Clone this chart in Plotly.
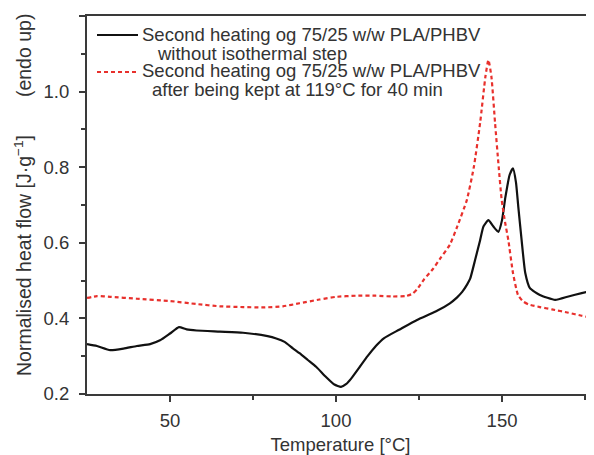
import plotly.graph_objects as go

# Black curve: second heating without isothermal step
t_black = [25, 28, 32, 36, 40, 44, 47, 50, 52.7, 55, 58, 65, 72, 79.4, 82, 84.5, 87, 89,
           91.5, 94, 97, 99.5, 101.5, 103, 104.5, 107, 109.5, 112, 114.5, 119, 124.4, 130,
           134.3, 136.4, 138, 139.5, 140.4, 141.9, 143.4, 144.4, 145.9, 147.4, 148.9, 150,
           151, 152.3, 153.3, 154.2, 154.9, 155.9, 157, 158.4, 161.4, 166, 170, 174, 177.7]
hf_black = [0.332, 0.327, 0.316, 0.320, 0.327, 0.332, 0.342, 0.360, 0.377, 0.371, 0.368,
            0.365, 0.362, 0.353, 0.347, 0.338, 0.321, 0.308, 0.290, 0.272, 0.245, 0.225,
            0.219, 0.226, 0.240, 0.270, 0.300, 0.327, 0.348, 0.370, 0.396, 0.418, 0.440,
            0.455, 0.470, 0.490, 0.505, 0.555, 0.607, 0.643, 0.660, 0.643, 0.629, 0.660,
            0.720, 0.780, 0.797, 0.760, 0.695, 0.607, 0.520, 0.480, 0.462, 0.449, 0.458,
            0.467, 0.475]

# Red dashed curve: after being kept at 119 °C for 40 min
t_red = [25, 28, 32, 40, 50, 58, 65, 72, 78, 84, 89, 95, 100, 106, 112, 117, 121, 123,
         124.4, 126.5, 129.3, 131.5, 134.3, 136.5, 139.4, 141.5, 143.4, 145, 145.9, 146.8,
         147.9, 149, 149.9, 150.9, 151.9, 153.3, 154.8, 156.3, 158, 161.4, 165, 170, 174,
         177.7]
hf_red = [0.454, 0.459, 0.457, 0.452, 0.446, 0.438, 0.432, 0.430, 0.429, 0.432, 0.440,
          0.450, 0.457, 0.460, 0.460, 0.458, 0.459, 0.465, 0.477, 0.503, 0.532, 0.560,
          0.595, 0.643, 0.713, 0.800, 0.917, 1.040, 1.084, 1.040, 0.917, 0.800, 0.713,
          0.655, 0.607, 0.520, 0.462, 0.445, 0.437, 0.430, 0.424, 0.415, 0.407, 0.400]

legend_black = ["Second heating og 75/25 w/w PLA/PHBV", "without isothermal step"]
legend_red = ["Second heating og 75/25 w/w PLA/PHBV", "after being kept at 119°C for 40 min"]

x_ticks = [50, 100, 150]
y_ticks = [0.2, 0.4, 0.6, 0.8, 1.0, 1.2]

y_title = "Normalised heat flow [J·g<sup>−1</sup>]" + "\u00a0" * 7 + "(endo up)"
x_title = "Temperature [°C]"

black = "#111111"
red = "#e8302c"
axis_color = "#3a3a3a"
text_color = "#333333"
font_fam = "Liberation Sans, Arial, sans-serif"

fig = go.Figure()
fig.add_trace(go.Scatter(x=t_black, y=hf_black, mode="lines", name=" ".join(legend_black),
                         showlegend=False,
                         line=dict(color=black, width=2.2, shape="spline", smoothing=0.5)))
fig.add_trace(go.Scatter(x=t_red, y=hf_red, mode="lines", name=" ".join(legend_red),
                         showlegend=False,
                         line=dict(color=red, width=2.2, dash="4px,3px",
                                   shape="spline", smoothing=0.5)))

# Legend drawn inside the plot (paper coordinates of the plot area)
PL, PW, PB, PH = 87, 507, 394, 378  # plot-area pixel frame in the screenshot


def px(x):
    return (x - PL) / PW


def py(y):
    return (PB - y) / PH


for y_line, color, dash in [(35, black, "solid"), (72, red, "4px,3px")]:
    fig.add_shape(type="line", xref="paper", yref="paper",
                  x0=px(97), x1=px(138), y0=py(y_line), y1=py(y_line),
                  line=dict(color=color, width=2.2, dash=dash))

for txt, x_left, y_mid in [(legend_black[0], 141, 35), (legend_black[1], 156, 53),
                           (legend_red[0], 141, 71), (legend_red[1], 151, 89)]:
    fig.add_annotation(text=txt, xref="paper", yref="paper", x=px(x_left), y=py(y_mid),
                       xanchor="left", yanchor="middle", showarrow=False, borderpad=0,
                       font=dict(size=18.5, color=text_color, family=font_fam))

# Y-axis title (placed slightly above centre, as in the original)
fig.add_annotation(text=y_title, xref="paper", yref="paper", x=px(23), y=py(195),
                   xanchor="center", yanchor="middle", textangle=-90, showarrow=False,
                   borderpad=0, font=dict(size=19.5, color=text_color, family=font_fam))

fig.update_layout(
    width=586, height=447,
    margin=dict(l=79, r=0, t=8, b=61, autoexpand=False),
    paper_bgcolor="white", plot_bgcolor="white",
    font=dict(family=font_fam, size=18, color=text_color),
    showlegend=False,
    xaxis=dict(range=[25, 177.7], tickvals=x_ticks, ticktext=[str(v) for v in x_ticks],
               ticks="outside", ticklen=6, tickwidth=1.5, tickcolor=axis_color,
               ticklabelstandoff=3,
               showline=True, linecolor=axis_color, linewidth=2, mirror=True,
               showgrid=False, zeroline=False,
               minor=dict(tickvals=[75, 125, 175], ticks="outside", ticklen=4,
                          tickwidth=1.5, tickcolor=axis_color),
               tickfont=dict(size=18.5),
               title=dict(text=x_title, font=dict(size=18.5), standoff=11)),
    yaxis=dict(range=[0.2, 1.2], tickvals=y_ticks, ticktext=[f"{v:.1f}" for v in y_ticks],
               ticks="outside", ticklen=6, tickwidth=1.5, tickcolor=axis_color,
               ticklabelstandoff=6,
               showline=True, linecolor=axis_color, linewidth=2,
               showgrid=False, zeroline=False,
               minor=dict(tickvals=[0.3, 0.5, 0.7, 0.9, 1.1], ticks="outside", ticklen=4,
                          tickwidth=1.5, tickcolor=axis_color),
               tickfont=dict(size=18.5)),
)

fig.write_html("out.html")
